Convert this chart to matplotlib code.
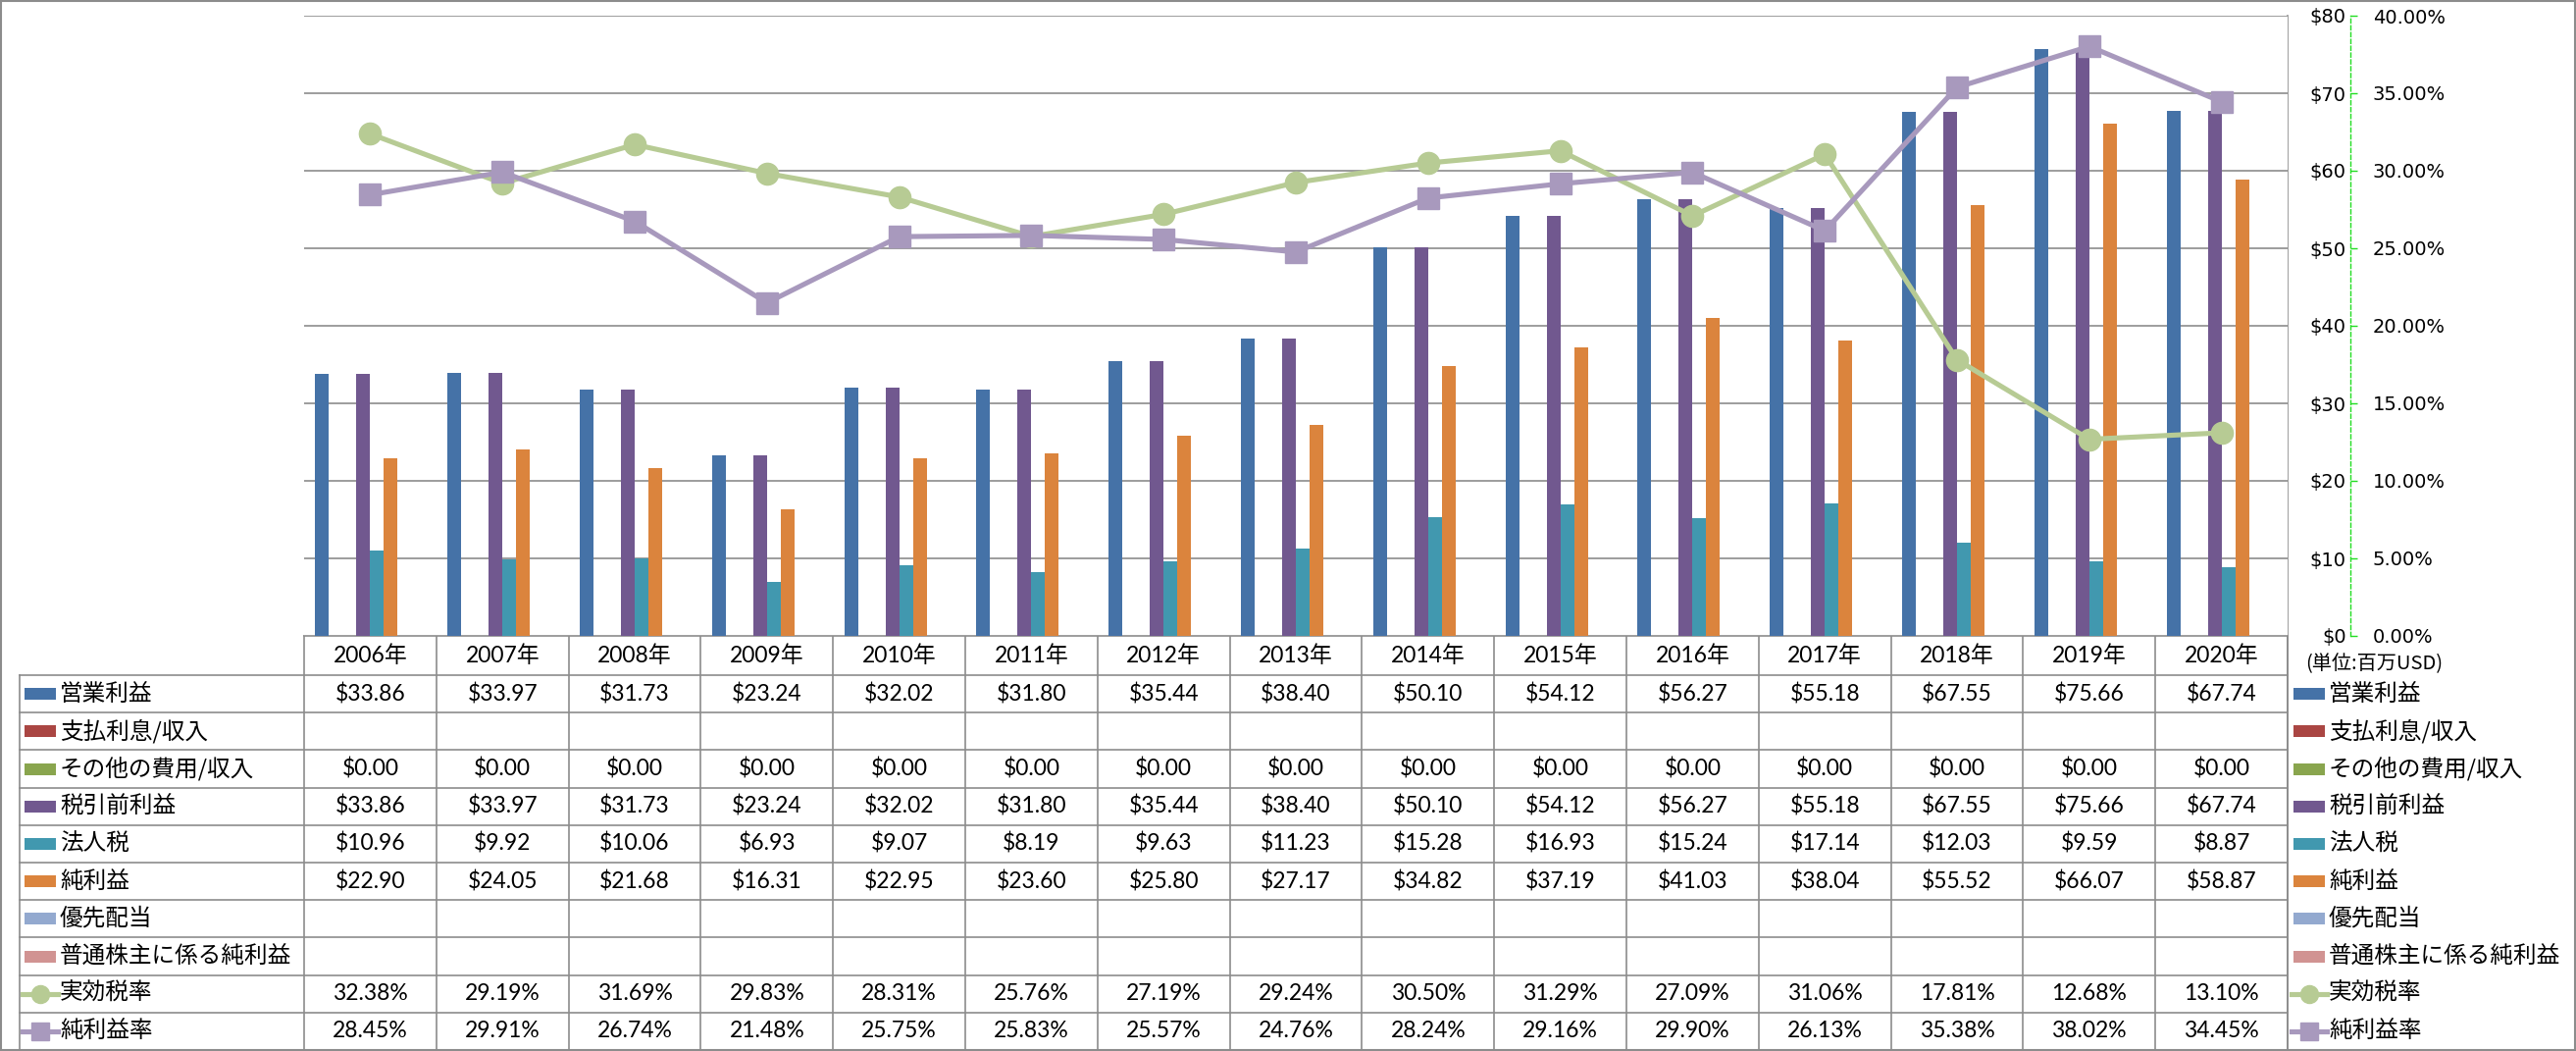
import matplotlib
matplotlib.use("Agg")
import matplotlib.pyplot as plt
from matplotlib.lines import Line2D
from matplotlib.patches import Rectangle
from matplotlib.ticker import FuncFormatter
import numpy as np

plt.rcParams["font.family"] = ["Noto Sans CJK JP", "DejaVu Sans"]

# ---- data -------------------------------------------------------------
years = ["2006年", "2007年", "2008年", "2009年", "2010年", "2011年", "2012年", "2013年",
         "2014年", "2015年", "2016年", "2017年", "2018年", "2019年", "2020年"]
operating_income = [33.86, 33.97, 31.73, 23.24, 32.02, 31.80, 35.44, 38.40,
                    50.10, 54.12, 56.27, 55.18, 67.55, 75.66, 67.74]
interest = [None] * 15
other_expense = [0.00] * 15
pretax_income = [33.86, 33.97, 31.73, 23.24, 32.02, 31.80, 35.44, 38.40,
                 50.10, 54.12, 56.27, 55.18, 67.55, 75.66, 67.74]
income_tax = [10.96, 9.92, 10.06, 6.93, 9.07, 8.19, 9.63, 11.23,
              15.28, 16.93, 15.24, 17.14, 12.03, 9.59, 8.87]
net_income = [22.90, 24.05, 21.68, 16.31, 22.95, 23.60, 25.80, 27.17,
              34.82, 37.19, 41.03, 38.04, 55.52, 66.07, 58.87]
preferred_div = [None] * 15
common_income = [None] * 15
tax_rate = [32.38, 29.19, 31.69, 29.83, 28.31, 25.76, 27.19, 29.24,
            30.50, 31.29, 27.09, 31.06, 17.81, 12.68, 13.10]
net_margin = [28.45, 29.91, 26.74, 21.48, 25.75, 25.83, 25.57, 24.76,
              28.24, 29.16, 29.90, 26.13, 35.38, 38.02, 34.45]

bar_series = [
    ("営業利益", operating_income, "#4572A7"),
    ("支払利息/収入", interest, "#AA4643"),
    ("その他の費用/収入", other_expense, "#89A54E"),
    ("税引前利益", pretax_income, "#71588F"),
    ("法人税", income_tax, "#4198AF"),
    ("純利益", net_income, "#DB843D"),
    ("優先配当", preferred_div, "#93A9CF"),
    ("普通株主に係る純利益", common_income, "#D19392"),
]
line_series = [
    ("実効税率", tax_rate, "#B7CB94", "o"),
    ("純利益率", net_margin, "#A899BD", "s"),
]

# ---- layout (pixels) --------------------------------------------------
W, H, DPI = 2626, 1071, 100
PL, PR, PT, PB = 310, 2332, 16, 648       # plot area
AXIS_X = 2396                              # dashed axis line
HEAD_H = 40
ROW_H = (1070 - PB - HEAD_H) / 10
GRID = "#8c8c8c"
NUM_FONT = ["Lato", "Noto Sans CJK JP"]

fig = plt.figure(figsize=(W / DPI, H / DPI), dpi=DPI)
fig.patch.set_facecolor("white")

ax = fig.add_axes([PL / W, 1 - PB / H, (PR - PL) / W, (PB - PT) / H])
n = len(years)
x = np.arange(n)
col_w = (PR - PL) / n
bw = 14 / col_w
for j, (label, vals, color) in enumerate(bar_series):
    v = np.array([np.nan if a is None else a for a in vals], dtype=float)
    ax.bar(x + (j - 3.5) * bw, v, width=bw, color=color, linewidth=0, zorder=2)

ax.set_xlim(-0.5, n - 0.5)
ax.set_ylim(0, 80)
ax.set_yticks(range(0, 81, 10))
ax.yaxis.grid(True, color=GRID, linewidth=1.2, zorder=0)
ax.set_axisbelow(True)
ax.set_xticks([])
for s in ax.spines.values():
    s.set_visible(False)
axis_pos = (AXIS_X - PL) / (PR - PL)
ax.spines["left"].set_position(("axes", axis_pos))
ax.tick_params(axis="y", length=0, pad=3, labelsize=14, labelfontfamily="DejaVu Sans")
ax.yaxis.set_major_formatter(FuncFormatter(lambda v, p: f"${v:.0f}"))

ax2 = ax.twinx()
ax2.set_ylim(0, 0.40)
ax2.set_yticks(np.arange(0, 0.401, 0.05))
for k, s in ax2.spines.items():
    s.set_visible(k == "right")
ax2.spines["right"].set_position(("axes", axis_pos))
ax2.spines["right"].set_color("#22dd22")
ax2.spines["right"].set_linestyle((0, (3, 2)))
ax2.spines["right"].set_linewidth(1)
ax2.tick_params(axis="y", direction="out", length=5, width=1, color="#22dd22",
                pad=11.5, labelsize=14, labelfontfamily="DejaVu Sans")
ax2.yaxis.set_major_formatter(FuncFormatter(lambda v, p: f"{v * 100:.2f}%"))
for label, vals, color, mk in line_series:
    ax2.plot(x, np.array(vals) / 100, color=color, lw=3.7, marker=mk, ms=16,
             mfc=color, mec=color, zorder=3, solid_capstyle="round")

# ---- data table overlay -----------------------------------------------
tb = fig.add_axes([0, 0, 1, 1], zorder=-1)
tb.set_xlim(0, W)
tb.set_ylim(H, 0)
tb.axis("off")

edges = [PL + col_w * k for k in range(n + 1)]
rows_top = PB + HEAD_H
row_edges = [rows_top + ROW_H * r for r in range(11)]
for xe in edges:
    tb.plot([xe, xe], [PB, row_edges[-1]], color=GRID, lw=1.2)
tb.plot([PR, PR], [PT, row_edges[-1]], color=GRID, lw=1.2)
tb.plot([PL, PR], [PB, PB], color=GRID, lw=1.2)
for ye in row_edges:
    tb.plot([20, PR], [ye, ye], color=GRID, lw=1.2)
tb.plot([20, 20], [rows_top, row_edges[-1]], color=GRID, lw=1.2)

for i, yr in enumerate(years):
    tb.text(PL + col_w * (i + 0.5), PB + HEAD_H / 2, yr, ha="center", va="center",
            fontsize=16.5, family=NUM_FONT)


def legend_key(xk, yc, color, marker=None):
    if marker is None:
        tb.add_patch(Rectangle((xk, yc - 6), 32, 12, color=color, lw=0))
    else:
        tb.add_line(Line2D([xk - 2, xk + 34], [yc, yc], color=color, lw=3.7))
        tb.add_line(Line2D([xk + 16], [yc], marker=marker, ms=13, color=color, mec=color))


entries = [(lbl, vals, col, None, "$") for lbl, vals, col in bar_series] + \
          [(lbl, vals, col, mk, "%") for lbl, vals, col, mk in line_series]
for r, (lbl, vals, col, mk, kind) in enumerate(entries):
    yc = row_edges[r] + ROW_H / 2
    legend_key(25, yc, col, mk)
    tb.text(61, yc, lbl, ha="left", va="center", fontsize=17)
    legend_key(2338, yc, col, mk)
    tb.text(2374, yc, lbl, ha="left", va="center", fontsize=17)
    for i, v in enumerate(vals):
        if v is None:
            continue
        s = f"${v:.2f}" if kind == "$" else f"{v:.2f}%"
        tb.text(PL + col_w * (i + 0.5), yc, s, ha="center", va="center",
                fontsize=16.5, family=NUM_FONT)

tb.text(2350, 677, "(単位:百万USD)", ha="left", va="center", fontsize=14.5)
tb.add_patch(Rectangle((1, 1), W - 2, H - 2, fill=False, edgecolor=GRID, lw=1.5))

fig.savefig("out.png", dpi=DPI, facecolor="white")
